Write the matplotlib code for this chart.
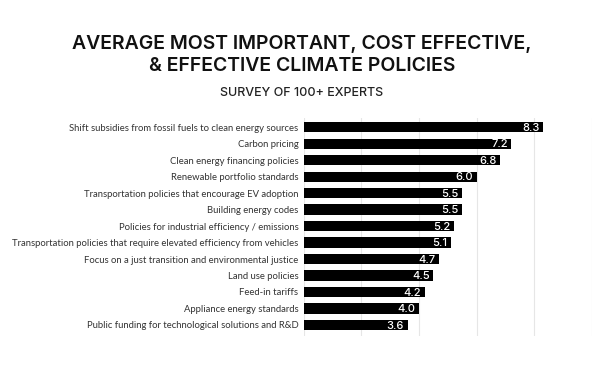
import matplotlib
matplotlib.use('Agg')
import matplotlib.pyplot as plt

# data
policies = [
    'Shift subsidies from fossil fuels to clean energy sources',
    'Carbon pricing',
    'Clean energy financing policies',
    'Renewable portfolio standards',
    'Transportation policies that encourage EV adoption',
    'Building energy codes',
    'Policies for industrial efficiency / emissions',
    'Transportation policies that require elevated efficiency from vehicles',
    'Focus on a just transition and environmental justice',
    'Land use policies',
    'Feed-in tariffs',
    'Appliance energy standards',
    'Public funding for technological solutions and R&D',
]
scores = [8.3, 7.2, 6.8, 6.0, 5.5, 5.5, 5.2, 5.1, 4.7, 4.5, 4.2, 4.0, 3.6]
grid_ticks = [0, 2, 4, 6, 8, 10]

fig = plt.figure(figsize=(6.04, 3.68), dpi=100, facecolor='white')
ax = fig.add_axes([0.503, 0.087, 0.477, 0.592])

y = list(range(len(policies)))
ax.barh(y, scores, height=0.62, color='black', zorder=3)
for yi, v in zip(y, scores):
    ax.text(v - 0.12, yi + 0.05, f'{v:.1f}', color='white', fontsize=8,
            ha='right', va='center', family='Inter', fontweight='medium', zorder=4)

ax.set_xlim(0, 10)
ax.set_ylim(len(policies) - 0.33, -0.55)
ax.set_xticks(grid_ticks)
ax.grid(axis='x', color='#e6e6e6', linewidth=0.8, zorder=0)
ax.tick_params(axis='x', length=0, labelbottom=False)
ax.set_yticks(y)
ax.set_yticklabels(policies, fontsize=6.85, color='#333333', family='Lato')
ax.tick_params(axis='y', length=0, pad=4)
for sp in ax.spines.values():
    sp.set_visible(False)

fig.text(0.5, 0.880, 'AVERAGE MOST IMPORTANT, COST EFFECTIVE,', ha='center', va='center',
         fontsize=14, family='Inter', fontweight='semibold', color='#111111')
fig.text(0.5, 0.820, '& EFFECTIVE CLIMATE POLICIES', ha='center', va='center',
         fontsize=14, family='Inter', fontweight='semibold', color='#111111')
fig.text(0.5, 0.747, 'SURVEY OF 100+ EXPERTS', ha='center', va='center',
         fontsize=9, family='Inter', fontweight='medium', color='#222222')

fig.savefig('out.png', dpi=100, facecolor='white')
